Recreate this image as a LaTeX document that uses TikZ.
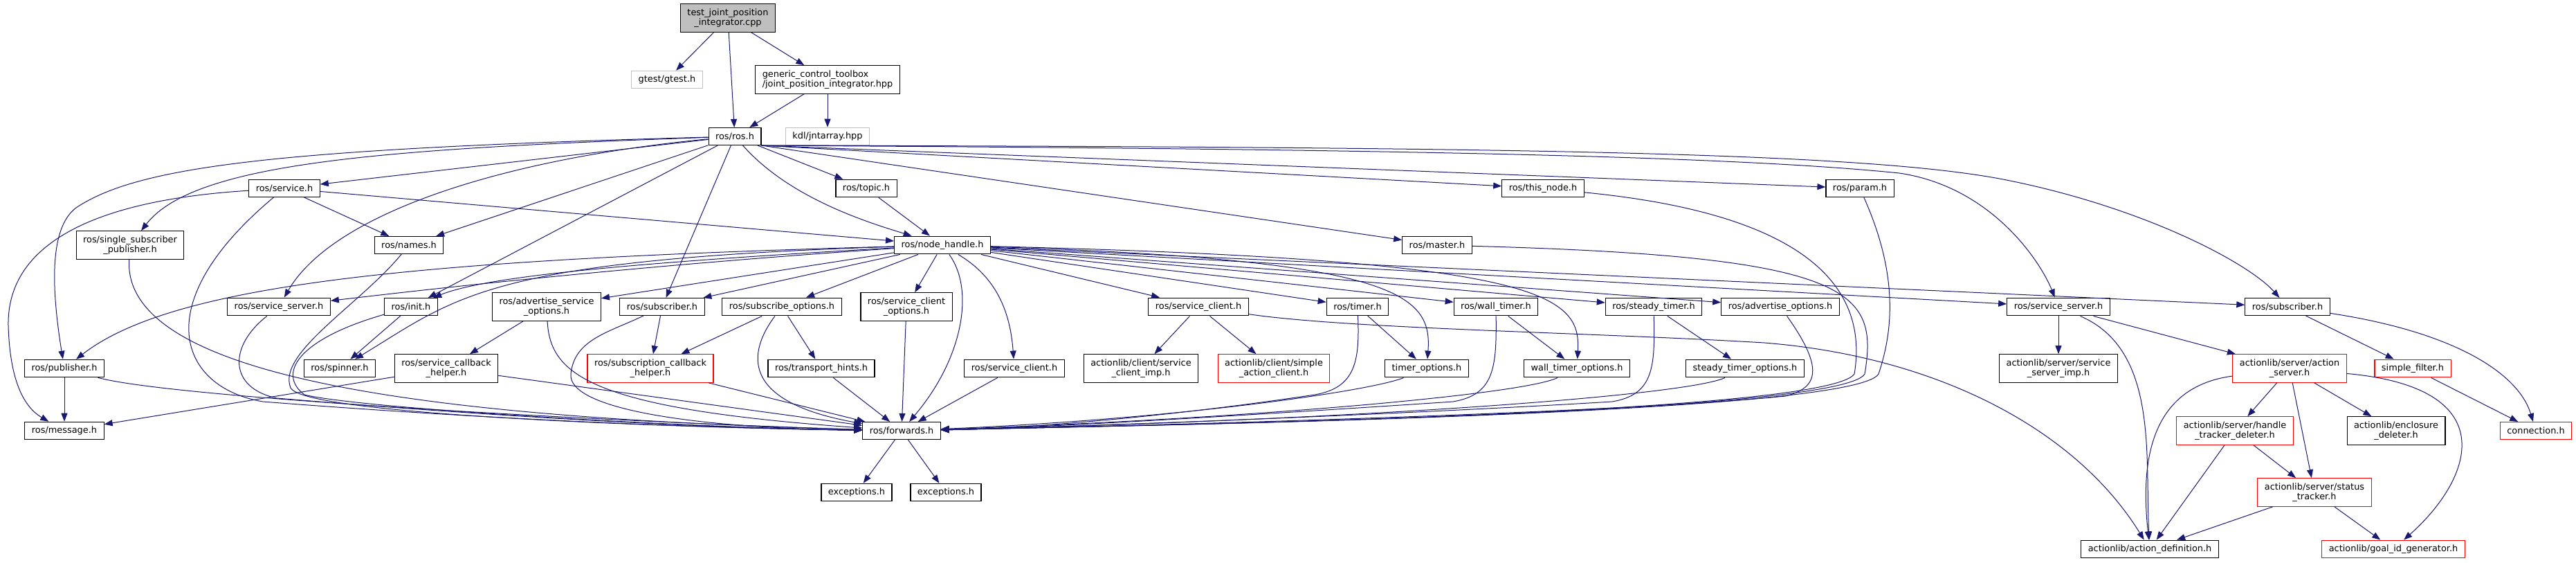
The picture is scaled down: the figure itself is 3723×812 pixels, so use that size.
\documentclass[tikz,border=0pt]{standalone}
\usepackage{fontspec}
\setmainfont{DejaVu Sans}
\usetikzlibrary{arrows.meta}
\definecolor{edgeblue}{HTML}{191970}
\definecolor{boxgray}{HTML}{BFBFBF}
\tikzset{
  file/.style={draw=black, fill=white, line width=1.1pt, font=\fontsize{12.9}{14.7}\selectfont,
    inner xsep=10pt, inner ysep=6.5pt, minimum height=25pt, align=center},
  main file/.style={file, fill=boxgray},
  ext file/.style={file, draw=boxgray},
  cut file/.style={file, draw=red},
  incl/.style={-{Triangle[length=12pt, width=9pt]}, draw=edgeblue, line width=1pt},
}

\begin{document}
\begin{tikzpicture}[x=1pt, y=-1pt]
  \useasboundingbox (0,0) rectangle (3723,812);

  % Top files
  \node[main file] (root) at (1052,26) {test\_joint\_position\\\_integrator.cpp};
  \node[ext file] (gtest) at (964,115) {gtest/gtest.h};
  \node[file, align=left] (gct) at (1196,115) {generic\_control\_toolbox\\/joint\_position\_integrator.hpp};
  \node[file] (ros) at (1062,197) {ros/ros.h};
  \node[ext file] (kdl) at (1196,197) {kdl/jntarray.hpp};

  % Row 3 and 4
  \node[file] (service) at (411,272) {ros/service.h};
  \node[file] (topic) at (1252,272) {ros/topic.h};
  \node[file] (thisnode) at (2230,272) {ros/this\_node.h};
  \node[file] (param) at (2688,272) {ros/param.h};
  \node[file] (ssp) at (188,354) {ros/single\_subscriber\\\_publisher.h};
  \node[file] (names) at (591,354) {ros/names.h};
  \node[file] (nh) at (1362,354) {ros/node\_handle.h};
  \node[file] (master) at (2077,354) {ros/master.h};

  % Row 5
  \node[file] (ssL) at (403,443) {ros/service\_server.h};
  \node[file] (init) at (594,443) {ros/init.h};
  \node[file] (aso) at (790,443) {ros/advertise\_service\\\_options.h};
  \node[file] (subL) at (957,443) {ros/subscriber.h};
  \node[file] (subopt) at (1130,443) {ros/subscribe\_options.h};
  \node[file] (sco) at (1310,443) {ros/service\_client\\\_options.h};
  \node[file] (scA) at (1732,443) {ros/service\_client.h};
  \node[file] (timer) at (1962,443) {ros/timer.h};
  \node[file] (wtimer) at (2162,443) {ros/wall\_timer.h};
  \node[file] (stimer) at (2390,443) {ros/steady\_timer.h};
  \node[file] (advopt) at (2573,443) {ros/advertise\_options.h};
  \node[file] (ssR) at (2975,443) {ros/service\_server.h};
  \node[file] (subR) at (3306,443) {ros/subscriber.h};

  % Row 6
  \node[file] (pub) at (93,532) {ros/publisher.h};
  \node[file] (spinner) at (491,532) {ros/spinner.h};
  \node[file] (schelp) at (645,532) {ros/service\_callback\\\_helper.h};
  \node[cut file] (subcb) at (940,532) {ros/subscription\_callback\\\_helper.h};
  \node[file] (hints) at (1187,532) {ros/transport\_hints.h};
  \node[file] (scR) at (1466,532) {ros/service\_client.h};
  \node[file] (scimp) at (1649,532) {actionlib/client/service\\\_client\_imp.h};
  \node[cut file] (sac) at (1841,532) {actionlib/client/simple\\\_action\_client.h};
  \node[file] (topt) at (2062,532) {timer\_options.h};
  \node[file] (wtopt) at (2279,532) {wall\_timer\_options.h};
  \node[file] (stopt) at (2522,532) {steady\_timer\_options.h};
  \node[file] (ssimp) at (2975,532) {actionlib/server/service\\\_server\_imp.h};
  \node[cut file] (asrv) at (3309,532) {actionlib/server/action\\\_server.h};
  \node[cut file] (sfilter) at (3487,532) {simple\_filter.h};

  % Bottom rows
  \node[file] (msg) at (93,622) {ros/message.h};
  \node[file] (fwd) at (1303,622) {ros/forwards.h};
  \node[cut file] (htd) at (3230,622) {actionlib/server/handle\\\_tracker\_deleter.h};
  \node[file] (encl) at (3463,622) {actionlib/enclosure\\\_deleter.h};
  \node[cut file] (conn) at (3665,622) {connection.h};
  \node[file] (exc1) at (1238,711) {exceptions.h};
  \node[file] (exc2) at (1367,711) {exceptions.h};
  \node[cut file] (stat) at (3345,711) {actionlib/server/status\\\_tracker.h};
  \node[file] (adef) at (3107,793) {actionlib/action\_definition.h};
  \node[cut file] (gid) at (3459,793) {actionlib/goal\_id\_generator.h};

  % Straight includes
  \foreach \a/\b in {root/gtest, root/ros, root/gct, gct/ros, gct/kdl,
    ros/service, ros/topic, ros/names, ros/init, ros/subL,
    service/names, service/nh, topic/nh,
    nh/aso, nh/subL, nh/subopt, nh/sco, nh/scA, nh/timer, nh/wtimer, nh/stimer,
    nh/advopt, nh/ssR, nh/subR,
    init/spinner, aso/schelp, subL/subcb, subopt/subcb, subopt/hints, sco/fwd,
    scA/scimp, scA/sac, timer/topt, wtimer/wtopt, stimer/stopt,
    ssR/ssimp, ssR/asrv, subR/sfilter,
    pub/msg, schelp/msg, schelp/fwd, subcb/fwd, hints/fwd, scR/fwd,
    asrv/htd, asrv/encl, asrv/stat, sfilter/conn, htd/stat, htd/adef,
    stat/adef, stat/gid, fwd/exc1, fwd/exc2}{
    \draw[incl] (\a) -- (\b);
  }
  \foreach \b in {thisnode, param, master}{
    \draw[incl] (ros.south east) -- (\b);
  }

  % Curved includes from ros/ros.h
  \draw[incl] (ros) .. controls (1140,285) and (1250,320) .. (nh);
  \draw[incl] (ros) .. controls (550,215) and (280,235) .. (ssp);
  \draw[incl] (ros) .. controls (400,215) and (200,240) .. (110,300) .. controls (70,330) and (75,420) .. (pub);
  \draw[incl] (ros) .. controls (720,230) and (480,310) .. (ssL);
  \draw[incl] (ros.south east) .. controls (2000,215) and (2500,225) .. (2745,250) .. controls (2880,270) and (2950,380) .. (ssR);
  \draw[incl] (ros.south east) .. controls (2200,212) and (2700,220) .. (2900,260) .. controls (3100,300) and (3250,380) .. (subR);

  % Left side into ros/forwards.h
  \draw[incl] (service) .. controls (120,290) and (10,360) .. (12,470) .. controls (14,540) and (30,585) .. (msg);
  \draw[incl] (service) .. controls (210,440) and (260,560) .. (380,580) .. controls (700,605) and (1000,618) .. (fwd);
  \draw[incl] (names) .. controls (520,440) and (400,510) .. (420,560) .. controls (440,600) and (1000,618) .. (fwd);
  \draw[incl] (ssp) .. controls (175,560) and (700,605) .. (fwd);
  \draw[incl] (pub) .. controls (250,575) and (900,610) .. (fwd);
  \draw[incl] (ssL) .. controls (330,500) and (330,560) .. (400,575) .. controls (700,600) and (1000,618) .. (fwd);
  \draw[incl] (init) .. controls (430,490) and (400,540) .. (440,570) .. controls (520,590) and (1000,618) .. (fwd);
  \draw[incl] (aso) .. controls (795,540) and (850,590) .. (fwd);
  \draw[incl] (subL) .. controls (880,480) and (830,490) .. (825,540) .. controls (820,590) and (1000,618) .. (fwd);
  \draw[incl] (subopt) .. controls (1080,510) and (1070,580) .. (fwd);

  % Curved includes from ros/node_handle.h
  \draw[incl] (nh) .. controls (600,375) and (250,410) .. (pub);
  \draw[incl] (nh) .. controls (900,385) and (600,420) .. (ssL);
  \draw[incl] (nh) .. controls (900,380) and (700,400) .. (init);
  \draw[incl] (nh) .. controls (700,375) and (660,430) .. (spinner);
  \draw[incl] (nh) .. controls (1410,420) and (1390,520) .. (fwd);
  \draw[incl] (nh) .. controls (1440,400) and (1460,450) .. (scR);
  \draw[incl] (nh) .. controls (2020,375) and (2070,425) .. (topt);
  \draw[incl] (nh) .. controls (2230,375) and (2285,425) .. (wtopt);

  % Right side into ros/forwards.h
  \draw[incl] (timer) .. controls (1965,520) and (1960,560) .. (1900,570) .. controls (1700,600) and (1500,618) .. (fwd);
  \draw[incl] (wtimer) .. controls (2163,530) and (2160,570) .. (2100,580) .. controls (1800,600) and (1500,618) .. (fwd);
  \draw[incl] (stimer) .. controls (2392,530) and (2390,570) .. (2330,580) .. controls (2000,600) and (1500,618) .. (fwd);
  \draw[incl] (topt) .. controls (1980,565) and (1700,605) .. (fwd);
  \draw[incl] (wtopt) .. controls (2200,570) and (1800,605) .. (fwd);
  \draw[incl] (stopt) .. controls (2440,570) and (2000,605) .. (fwd);
  \draw[incl] (advopt) .. controls (2635,530) and (2630,560) .. (2580,572) .. controls (2300,600) and (1500,618) .. (fwd);
  \draw[incl] (thisnode) .. controls (2620,310) and (2700,420) .. (2680,540) .. controls (2640,600) and (1600,615) .. (fwd);
  \draw[incl] (master) .. controls (2680,370) and (2715,420) .. (2695,540) .. controls (2660,600) and (1600,615) .. (fwd);
  \draw[incl] (param) .. controls (2745,400) and (2735,480) .. (2715,540) .. controls (2680,600) and (1600,615) .. (fwd);

  % actionlib side
  \draw[incl] (scA) .. controls (1950,475) and (2300,480) .. (2550,495) .. controls (2800,515) and (3000,620) .. (adef);
  \draw[incl] (ssR) .. controls (3120,505) and (3100,660) .. (adef);
  \draw[incl] (asrv) .. controls (3100,560) and (3095,680) .. (adef);
  \draw[incl] (asrv) .. controls (3620,560) and (3575,690) .. (gid);
  \draw[incl] (subR) .. controls (3550,480) and (3640,540) .. (conn);

\end{tikzpicture}
\end{document}
